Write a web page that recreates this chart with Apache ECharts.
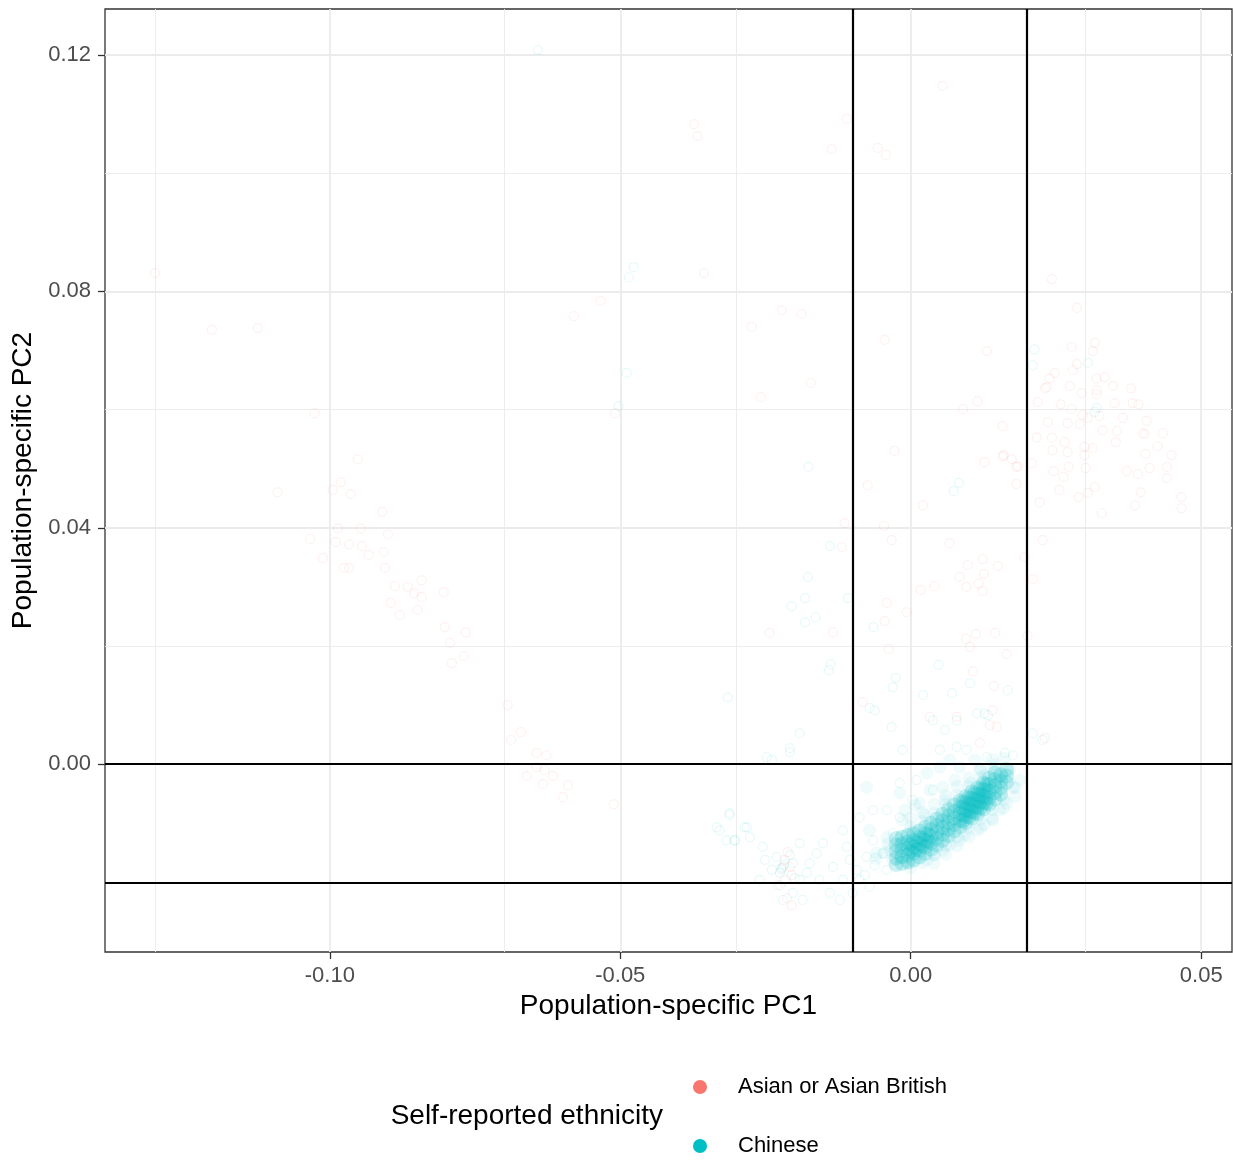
<!DOCTYPE html>
<html>
<head>
<meta charset="utf-8">
<script src="https://cdn.jsdelivr.net/npm/echarts@6/dist/echarts.min.js"></script>
<style>
html,body{margin:0;padding:0;background:#fff;}
#chart{width:1233px;height:1161px;}
</style>
</head>
<body>
<div id="chart"></div>
<script>
// ---- data ----
const xRange = [-0.1387, 0.0553];
const yRange = [-0.0318, 0.1278];
const xTickValues = [-0.10, -0.05, 0.00, 0.05];
const yTickValues = [0.00, 0.04, 0.08, 0.12];
const xMinorGrid = [-0.125, -0.075, -0.025, 0.025];
const yMinorGrid = [-0.02, 0.02, 0.06, 0.10];
const xRefLines = [-0.01, 0.02];
const yRefLines = [0.00, -0.02];
const groupNames = ['Asian or Asian British', 'Chinese'];
const groupColors = ['#F8766D', '#00BFC4'];

const asianPoints = [
[-0.1301,0.0831],[-0.1203,0.0735],[-0.1124,0.0738],[-0.1026,0.0594],[-0.0952,0.0516],[-0.1090,0.0460],[-0.0981,0.0477],[-0.0995,0.0464],[-0.0964,0.0457],[-0.0910,0.0427],[-0.0986,0.0399],[-0.0947,0.0399],[-0.0900,0.0389],[-0.1034,0.0381],[-0.0990,0.0376],[-0.0967,0.0372],[-0.0945,0.0369],[-0.0933,0.0354],[-0.0907,0.0359],[-0.1012,0.0349],[-0.0976,0.0332],[-0.0967,0.0332],[-0.0905,0.0332],[-0.0842,0.0311],[-0.0888,0.0301],[-0.0866,0.0300],[-0.0855,0.0289],[-0.0842,0.0283],[-0.0804,0.0291],[-0.0895,0.0273],[-0.0849,0.0261],[-0.0880,0.0252],[-0.0802,0.0232],[-0.0766,0.0223],[-0.0793,0.0205],[-0.0769,0.0183],[-0.0790,0.0171],[-0.0694,0.0100],[-0.0671,0.0054],[-0.0688,0.0041],[-0.0644,0.0019],[-0.0627,0.0015],[-0.0630,-0.0010],[-0.0644,-0.0005],[-0.0661,-0.0020],[-0.0616,-0.0020],[-0.0633,-0.0034],[-0.0590,-0.0036],[-0.0599,-0.0056],[-0.0511,-0.0068],
[0.0055,0.1148],[-0.0373,0.1083],[-0.0367,0.1063],[-0.0110,0.1092],[-0.0136,0.1041],[-0.0057,0.1043],[-0.0043,0.1031],[-0.0356,0.0831],[-0.0534,0.0784],[-0.0580,0.0758],[-0.0222,0.0768],[-0.0188,0.0762],[-0.0274,0.0740],[-0.0045,0.0718],[0.0131,0.0699],[0.0243,0.0821],[0.0286,0.0772],[-0.0509,0.0594],[-0.0172,0.0645],[-0.0258,0.0621],[0.0115,0.0614],[0.0090,0.0601],[0.0231,0.0636],[0.0158,0.0572],[-0.0028,0.0530],[0.0127,0.0511],[0.0158,0.0521],[0.0174,0.0516],[0.0184,0.0504],[0.0208,0.0509],[-0.0074,0.0472],[0.0182,0.0474],[0.0021,0.0438],[0.0222,0.0443],[-0.0114,0.0408],[-0.0046,0.0403],[-0.0033,0.0379],[-0.0119,0.0367],[0.0067,0.0374],[0.0227,0.0379],[0.0098,0.0337],[0.0124,0.0347],[0.0150,0.0335],[0.0084,0.0317],[0.0096,0.0300],[0.0117,0.0306],[0.0124,0.0293],[0.0126,0.0322],[0.0017,0.0295],[0.0041,0.0301],[0.0196,0.0350],[0.0210,0.0313],[-0.0041,0.0273],[-0.0007,0.0257],[-0.0045,0.0242],[-0.0134,0.0223],[-0.0243,0.0222],[0.0095,0.0212],[0.0112,0.0220],[0.0145,0.0222],[0.0102,0.0198],[-0.0038,0.0195],[0.0165,0.0186],[0.0201,0.0217],[0.0107,0.0157],[0.0143,0.0132],[-0.0083,0.0105],[0.0141,0.0091],[0.0033,0.0080],[0.0079,0.0080],
[0.0277,0.0706],[0.0317,0.0713],[0.0313,0.0699],[0.0286,0.0677],[0.0279,0.0667],[0.0248,0.0662],[0.0239,0.0653],[0.0334,0.0655],[0.0320,0.0653],[0.0234,0.0638],[0.0274,0.0640],[0.0294,0.0628],[0.0320,0.0633],[0.0320,0.0626],[0.0348,0.0640],[0.0379,0.0636],[0.0219,0.0613],[0.0258,0.0609],[0.0351,0.0611],[0.0382,0.0611],[0.0392,0.0609],[0.0277,0.0601],[0.0296,0.0591],[0.0236,0.0579],[0.0325,0.0589],[0.0305,0.0586],[0.0365,0.0586],[0.0406,0.0581],[0.0270,0.0577],[0.0291,0.0575],[0.0330,0.0565],[0.0355,0.0564],[0.0399,0.0560],[0.0434,0.0560],[0.0403,0.0559],[0.0217,0.0553],[0.0243,0.0552],[0.0265,0.0545],[0.0270,0.0528],[0.0244,0.0531],[0.0299,0.0537],[0.0313,0.0535],[0.0353,0.0545],[0.0425,0.0538],[0.0449,0.0523],[0.0299,0.0523],[0.0272,0.0503],[0.0246,0.0496],[0.0301,0.0501],[0.0404,0.0525],[0.0372,0.0496],[0.0391,0.0491],[0.0411,0.0501],[0.0441,0.0503],[0.0441,0.0484],[0.0263,0.0486],[0.0317,0.0469],[0.0305,0.0459],[0.0289,0.0452],[0.0256,0.0464],[0.0396,0.0460],[0.0386,0.0438],[0.0466,0.0452],[0.0466,0.0433],[0.0329,0.0425],[0.0160,0.0523],[0.0182,0.0503],
[-0.0217,-0.0162],[-0.0208,-0.0174],[-0.0222,-0.0176],[-0.0205,-0.0188],[-0.0217,-0.0196],[-0.0229,-0.0205],[-0.0205,-0.0239],[-0.0213,-0.0227],[-0.0212,-0.0149],
[0.0136,0.0066],[0.0148,0.0063],[0.0119,0.0036],[0.0231,0.0044]
];

// sparse Chinese points (isolated points and the left tail)
const chinesePoints = [
[-0.0642,0.1209],[-0.0477,0.0841],[-0.0485,0.0824],[-0.0503,0.0606],[-0.0489,0.0662],[0.0213,0.0702],[0.0210,0.0675],[0.0305,0.0679],[0.0320,0.0603],[0.0317,0.0596],[-0.0176,0.0503],[0.0083,0.0476],[0.0074,0.0462],[-0.0139,0.0369],[-0.0177,0.0317],[-0.0182,0.0281],[-0.0205,0.0267],[-0.0164,0.0249],[-0.0182,0.0240],[-0.0108,0.0281],[-0.0064,0.0232],[-0.0138,0.0169],[-0.0141,0.0159],[0.0048,0.0168],[-0.0026,0.0146],[-0.0031,0.0130],[0.0021,0.0117],[0.0071,0.0120],[0.0102,0.0137],[0.0167,0.0125],[-0.0062,0.0091],[0.0127,0.0086],[-0.0315,0.0113],[-0.0208,0.0027],[-0.0248,0.0012],[-0.0312,-0.0086],[-0.0329,-0.0112],[-0.0303,-0.0129],[-0.0286,-0.0107],
[0.0038,0.0074],[0.0059,0.0058],[0.0079,0.0074],[0.0114,0.0086],[0.0133,0.0083],[0.0050,0.0024],[0.0079,0.0029],[0.0096,0.0024],[0.0131,0.0012],[0.0162,0.0019],[0.0176,0.0015],[0.0210,0.0052],[0.0227,0.0041],[-0.0014,0.0024],[-0.0033,0.0063],[-0.0071,0.0095],[-0.0191,0.0052],[-0.0208,0.0020],[-0.0239,0.0007],
[-0.0334,-0.0107],[-0.0312,-0.0083],[-0.0282,-0.0107],[-0.0303,-0.0129],[-0.0277,-0.0124],[-0.0255,-0.0140],[-0.0231,-0.0157],[-0.0220,-0.0174],[-0.0218,-0.0170],[-0.0223,-0.0178],[-0.0225,-0.0184],[-0.0203,-0.0168],[-0.0191,-0.0196],[-0.0203,-0.0218],[-0.0220,-0.0230],[-0.0186,-0.0230],[-0.0179,-0.0184],[-0.0162,-0.0151],[-0.0134,-0.0174],[-0.0117,-0.0196],[-0.0122,-0.0230],[-0.0139,-0.0218],[-0.0093,-0.0179],[-0.0088,-0.0196],[-0.0100,-0.0218],[-0.0076,-0.0157],[-0.0065,-0.0129],[-0.0048,-0.0151],[-0.0110,-0.0140],[-0.0151,-0.0134],[-0.0191,-0.0134],[-0.0071,-0.0208],[-0.0041,-0.0179],[-0.0019,-0.0157],[-0.0031,-0.0117],[-0.0019,-0.0090],[0.0003,-0.0061],[0.0038,-0.0044],[0.0010,-0.0027],[-0.0019,-0.0032],[-0.0041,-0.0078],[-0.0065,-0.0078],[-0.0088,-0.0090],[-0.0117,-0.0112],[-0.0317,-0.0129],[-0.0239,-0.0179],[-0.0251,-0.0162],[-0.0208,-0.0154],[-0.0174,-0.0168],[-0.0157,-0.0196],[-0.0105,-0.0162],[-0.0079,-0.0188],[-0.0062,-0.0171],[-0.0225,-0.0205],[-0.0200,-0.0193],[-0.0260,-0.0196]
];

// light haze of Chinese points surrounding the dark band
const chineseHazePoints = [
[0.0028,-0.0015],[0.0055,-0.0039],[0.0015,-0.0066],[-0.0014,-0.0095],[-0.0041,-0.0124],[0.0050,-0.0005],[0.0084,-0.0005],[0.0119,-0.0010],[0.0153,-0.0022],[0.0176,-0.0039],[0.0165,-0.0066],[0.0141,-0.0095],[0.0114,-0.0112],[0.0084,-0.0129],[0.0055,-0.0146],[0.0028,-0.0162],[-0.0002,-0.0168],[-0.0031,-0.0162],[-0.0059,-0.0151],[-0.0071,-0.0112],[-0.0019,-0.0049],[-0.0076,-0.0039],[0.0076,-0.0027],[0.0102,-0.0032],[0.0033,-0.0044],[0.0059,-0.0061],[0.0024,-0.0086],[0.0002,-0.0112],[0.0127,-0.0019],[0.0170,-0.0010],[0.0188,-0.0027],[0.0153,-0.0078],[0.0127,-0.0103],[0.0093,-0.0120],[0.0067,-0.0137],[0.0041,-0.0154],[-0.0019,-0.0137],[-0.0036,-0.0146],[0.0007,-0.0069],[-0.0010,-0.0078],[0.0067,0.0007],[0.0110,0.0007],[0.0145,-0.0002],
[0.0000,-0.0106],[0.0000,-0.0091],[0.0020,-0.0097],[0.0020,-0.0082],[0.0040,-0.0083],[0.0040,-0.0068],[0.0060,-0.0068],[0.0060,-0.0053],[0.0080,-0.0053],[0.0080,-0.0038],[0.0100,-0.0038],[0.0100,-0.0023],[0.0120,-0.0023],[0.0120,-0.0008],[0.0140,-0.0007],[0.0140,0.0008],[0.0160,0.0010],
[0.0000,-0.0176],[0.0020,-0.0167],[0.0040,-0.0153],[0.0040,-0.0168],[0.0060,-0.0138],[0.0060,-0.0153],[0.0080,-0.0123],[0.0080,-0.0138],[0.0100,-0.0108],[0.0100,-0.0123],[0.0120,-0.0093],[0.0120,-0.0108],[0.0140,-0.0077],[0.0140,-0.0092],[0.0160,-0.0060],[0.0160,-0.0075],[0.0180,-0.0040],[0.0180,-0.0055],
[-0.0045,-0.0150],[-0.0060,-0.0160],[-0.0040,-0.0135]
];

// densely overplotted Chinese core (the dark band)
const chineseCorePoints = [
[-0.0025,-0.0170],[-0.0025,-0.0159],[-0.0025,-0.0148],[-0.0025,-0.0137],[-0.0025,-0.0126],
[-0.0015,-0.0168],[-0.0015,-0.0157],[-0.0015,-0.0146],[-0.0015,-0.0135],[-0.0015,-0.0124],
[-0.0005,-0.0165],[-0.0005,-0.0154],[-0.0005,-0.0143],[-0.0005,-0.0132],[-0.0005,-0.0121],
[0.0005,-0.0162],[0.0005,-0.0151],[0.0005,-0.0140],[0.0005,-0.0129],[0.0005,-0.0118],
[0.0015,-0.0157],[0.0015,-0.0146],[0.0015,-0.0135],[0.0015,-0.0124],[0.0015,-0.0113],
[0.0025,-0.0151],[0.0025,-0.0140],[0.0025,-0.0129],[0.0025,-0.0118],[0.0025,-0.0107],
[0.0035,-0.0144],[0.0035,-0.0133],[0.0035,-0.0122],[0.0035,-0.0111],[0.0035,-0.0100],
[0.0045,-0.0137],[0.0045,-0.0126],[0.0045,-0.0115],[0.0045,-0.0104],[0.0045,-0.0093],
[0.0055,-0.0129],[0.0055,-0.0118],[0.0055,-0.0107],[0.0055,-0.0096],[0.0055,-0.0085],
[0.0065,-0.0121],[0.0065,-0.0110],[0.0065,-0.0099],[0.0065,-0.0088],[0.0065,-0.0077],
[0.0075,-0.0113],[0.0075,-0.0102],[0.0075,-0.0091],[0.0075,-0.0080],[0.0075,-0.0069],
[0.0085,-0.0106],[0.0085,-0.0095],[0.0085,-0.0084],[0.0085,-0.0073],[0.0085,-0.0062],
[0.0095,-0.0099],[0.0095,-0.0088],[0.0095,-0.0077],[0.0095,-0.0066],[0.0095,-0.0055],
[0.0105,-0.0091],[0.0105,-0.0080],[0.0105,-0.0069],[0.0105,-0.0058],[0.0105,-0.0047],
[0.0115,-0.0084],[0.0115,-0.0073],[0.0115,-0.0062],[0.0115,-0.0051],[0.0115,-0.0040],
[0.0125,-0.0076],[0.0125,-0.0065],[0.0125,-0.0054],[0.0125,-0.0043],[0.0125,-0.0032],
[0.0135,-0.0068],[0.0135,-0.0057],[0.0135,-0.0046],[0.0135,-0.0035],[0.0135,-0.0024],
[0.0145,-0.0059],[0.0145,-0.0048],[0.0145,-0.0037],[0.0145,-0.0026],[0.0145,-0.0015],
[0.0155,-0.0051],[0.0155,-0.0040],[0.0155,-0.0029],[0.0155,-0.0018],
[0.0165,-0.0031],[0.0165,-0.0020],[0.0165,-0.0009],
[0.0090,-0.0096],[0.0090,-0.0086],[0.0090,-0.0074],[0.0090,-0.0064],
[0.0100,-0.0089],[0.0100,-0.0079],[0.0100,-0.0067],[0.0100,-0.0057],
[0.0110,-0.0082],[0.0110,-0.0072],[0.0110,-0.0060],[0.0110,-0.0050],
[0.0120,-0.0074],[0.0120,-0.0064],[0.0120,-0.0052],[0.0120,-0.0042],
[0.0130,-0.0066],[0.0130,-0.0056],[0.0130,-0.0044],[0.0130,-0.0034],
[0.0000,-0.0148],[0.0000,-0.0136],[0.0010,-0.0144],[0.0010,-0.0132],
[0.0020,-0.0138],[0.0020,-0.0126],[0.0030,-0.0131],[0.0030,-0.0119]
];

// ---- chart ----
const FONT = 'Liberation Sans';
const chart = echarts.init(document.getElementById('chart'), null, {renderer: 'canvas'});

function vLine(v, style){ return {xAxis: v, lineStyle: style}; }
function hLine(v, style){ return {yAxis: v, lineStyle: style}; }

const majorStyle = {color: '#EBEBEB', width: 1.8, type: 'solid'};
const minorStyle = {color: '#EBEBEB', width: 0.9, type: 'solid'};
const refStyle = {color: '#000000', width: 2.2, type: 'solid'};

const gridMarks = []
  .concat(xMinorGrid.map(v => vLine(v, minorStyle)))
  .concat(yMinorGrid.map(v => hLine(v, minorStyle)))
  .concat(xTickValues.map(v => vLine(v, majorStyle)))
  .concat(yTickValues.map(v => hLine(v, majorStyle)));
const refMarks = []
  .concat(xRefLines.map(v => vLine(v, refStyle)))
  .concat(yRefLines.map(v => hLine(v, refStyle)));

const fmt = v => v.toFixed(2);
const legendText = {fontSize: 22, color: '#000000', fontFamily: FONT, lineHeight: 22, padding: [0, 0, 0, 26]};
function legendFor(i, top){
  return {
    orient: 'vertical', left: 688, top: top,
    itemWidth: 14, itemHeight: 14, selectedMode: false,
    textStyle: legendText,
    data: [{name: groupNames[i], icon: 'circle',
            itemStyle: {color: groupColors[i], borderWidth: 0, opacity: 1}}]
  };
}

chart.setOption({
  animation: false,
  backgroundColor: '#ffffff',
  textStyle: {fontFamily: FONT},
  grid: {left: 105, top: 9, right: 1, bottom: 209, show: true,
         borderColor: '#333333', borderWidth: 1.3, backgroundColor: '#ffffff'},
  xAxis: {
    type: 'value', min: xRange[0], max: xRange[1],
    name: 'Population-specific PC1', nameLocation: 'middle', nameGap: 40,
    nameTextStyle: {fontSize: 28, color: '#000000', fontFamily: FONT},
    axisLine: {show: false, onZero: false},
    axisTick: {show: true, customValues: xTickValues, length: 7, lineStyle: {color: '#333333', width: 1.3}},
    axisLabel: {customValues: xTickValues, formatter: fmt, fontSize: 22, color: '#4D4D4D', margin: 13, fontFamily: FONT},
    splitLine: {show: false}
  },
  yAxis: {
    type: 'value', min: yRange[0], max: yRange[1],
    name: 'Population-specific PC2', nameLocation: 'middle', nameGap: 63,
    nameTextStyle: {fontSize: 28, color: '#000000', fontFamily: FONT},
    axisLine: {show: false, onZero: false},
    axisTick: {show: true, customValues: yTickValues, length: 7, lineStyle: {color: '#333333', width: 1.3}},
    axisLabel: {customValues: yTickValues, formatter: fmt, fontSize: 22, color: '#4D4D4D', margin: 14, fontFamily: FONT},
    splitLine: {show: false}
  },
  legend: [legendFor(0, 1071), legendFor(1, 1130)],
  graphic: [{
    type: 'text', right: 1233 - 663, top: 1102,
    style: {text: 'Self-reported ethnicity', font: '28px "Liberation Sans"', fill: '#000000'}
  }],
  series: [
    {
      name: '_grid', type: 'scatter', data: [], silent: true, z: 0,
      markLine: {silent: true, symbol: ['none', 'none'], label: {show: false}, z: 0,
                 animation: false, emphasis: {disabled: true}, data: gridMarks}
    },
    {
      name: groupNames[1], type: 'scatter', data: chineseHazePoints, z: 2,
      symbol: 'circle', symbolSize: 13, silent: true,
      itemStyle: {color: groupColors[1], opacity: 0.06, borderWidth: 0}
    },
    {
      name: groupNames[1], type: 'scatter', data: chineseCorePoints, z: 2,
      symbol: 'circle', symbolSize: 15, silent: true,
      itemStyle: {color: groupColors[1], opacity: 0.2, borderWidth: 0}
    },
    {
      name: groupNames[1], type: 'scatter', data: chinesePoints, z: 2,
      symbol: 'circle', symbolSize: 9, silent: true,
      itemStyle: {color: 'rgba(0,0,0,0)', borderColor: 'rgba(0,191,196,0.12)', borderWidth: 1.2}
    },
    {
      name: groupNames[0], type: 'scatter', data: asianPoints, z: 3,
      symbol: 'circle', symbolSize: 9, silent: true,
      itemStyle: {color: 'rgba(0,0,0,0)', borderColor: 'rgba(248,118,109,0.13)', borderWidth: 1.2}
    },
    {
      name: '_ref', type: 'scatter', data: [], silent: true, z: 4,
      markLine: {silent: true, symbol: ['none', 'none'], label: {show: false}, z: 6,
                 animation: false, emphasis: {disabled: true}, data: refMarks}
    }
  ]
});
</script>
</body>
</html>
